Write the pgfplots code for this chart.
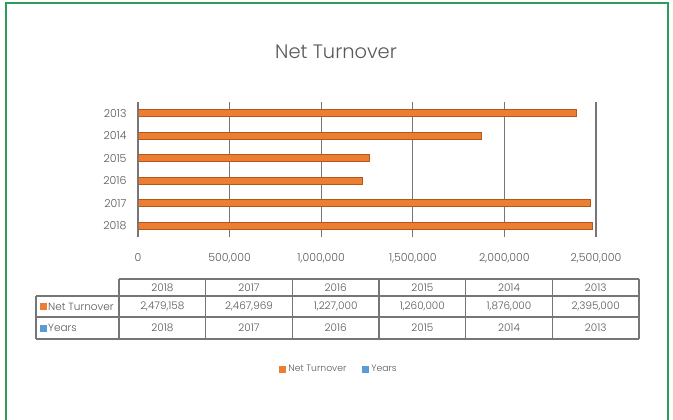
\documentclass[border=0pt]{standalone}
\usepackage{pgfplots}
\pgfplotsset{compat=1.18}
\usepackage{fontspec}
\setmainfont{Poppins}[UprightFont=* Light]
\definecolor{txt}{HTML}{595959}
\definecolor{gridc}{HTML}{767676}
\definecolor{orangebar}{HTML}{ED7D31}
\definecolor{orangeedge}{HTML}{B0581E}
\definecolor{bluebar}{HTML}{5B9BD5}
\definecolor{frame}{HTML}{2E9A5C}
\begin{document}
\begin{tikzpicture}[x=1bp,y=1bp]
\useasboundingbox (0,0) rectangle (673,419);
\fill[white] (0,0) rectangle (673,419);
\draw[frame, line width=1.2bp] (6,-5) rectangle (668,416);
\node[txt, font=\fontsize{19.5}{22}\selectfont] at (336,367) {Net Turnover};
\begin{axis}[
  at={(138bp,182bp)}, anchor=south west,
  scale only axis, width=458bp, height=135bp,
  xmin=0, xmax=2500000, ymin=0.5, ymax=6.5,
  xtick={0,500000,1000000,1500000,2000000,2500000},
  ytick={1,2,3,4,5,6},
  yticklabels={2018,2017,2016,2015,2014,2013},
  scaled x ticks=false,
  /pgf/number format/assume math mode=true,
  xticklabel style={/pgf/number format/fixed, /pgf/number format/1000 sep={,}, yshift=-13bp},
  xmajorgrids, major grid style={gridc, line width=1.3bp},
  axis line style={draw=none},
  major tick length=0pt,
  tick label style={txt, font=\fontsize{11}{12}\selectfont},
  yticklabel style={xshift=-8bp},
  xbar, bar width=7bp, bar shift=0pt,
  legend style={at={(axis description cs:0.439,-0.978)}, anchor=center, draw=none, fill=none,
    legend columns=2, font=\fontsize{9.3}{10}\selectfont, text=txt,
    /tikz/every even column/.append style={column sep=14bp}},
  legend image code/.code={\fill[#1,draw=none] (0bp,-3.5bp) rectangle (7bp,3.5bp);},
]
\addplot[fill=orangebar, draw=orangeedge, line width=0.6bp] coordinates {
  (2479158,1) (2467969,2) (1227000,3) (1260000,4) (1876000,5) (2395000,6)};
\addlegendentry{Net Turnover}
\addplot[fill=bluebar, draw=none] coordinates {
  (2018,1) (2017,2) (2016,3) (2015,4) (2014,5) (2013,6)};
\addlegendentry{Years}
\end{axis}
% data table
\begin{scope}[gridc, line width=1.3bp]
\draw (119,140) -- (639,140);
\draw (36,123) -- (639,123);
\draw (36,102) -- (639,102);
\draw (36,80) -- (639,80);
\draw (36,123) -- (36,80);
\foreach \x in {119,205.67,292.33,379,465.67,552.33,639} {\draw (\x,140) -- (\x,80);}
\end{scope}
\begin{scope}[every node/.style={txt, font=\fontsize{10.5}{11}\selectfont, inner sep=0pt}]
\foreach \v [count=\i] in {2018,2017,2016,2015,2014,2013} {
  \node at ({119+86.667*(\i-0.5)},131.5) {\v};
  \node at ({119+86.667*(\i-0.5)},91) {\v};
}
\foreach \v [count=\i] in {{2,479,158},{2,467,969},{1,227,000},{1,260,000},{1,876,000},{2,395,000}} {
  \node at ({119+86.667*(\i-0.5)},112.5) {\v};
}
\fill[orangebar] (40,109) rectangle (47,116);
\node[anchor=west] at (48,112.5) {Net Turnover};
\fill[bluebar] (40,87.5) rectangle (47,94.5);
\node[anchor=west] at (48,91) {Years};
\end{scope}
\end{tikzpicture}
\end{document}
